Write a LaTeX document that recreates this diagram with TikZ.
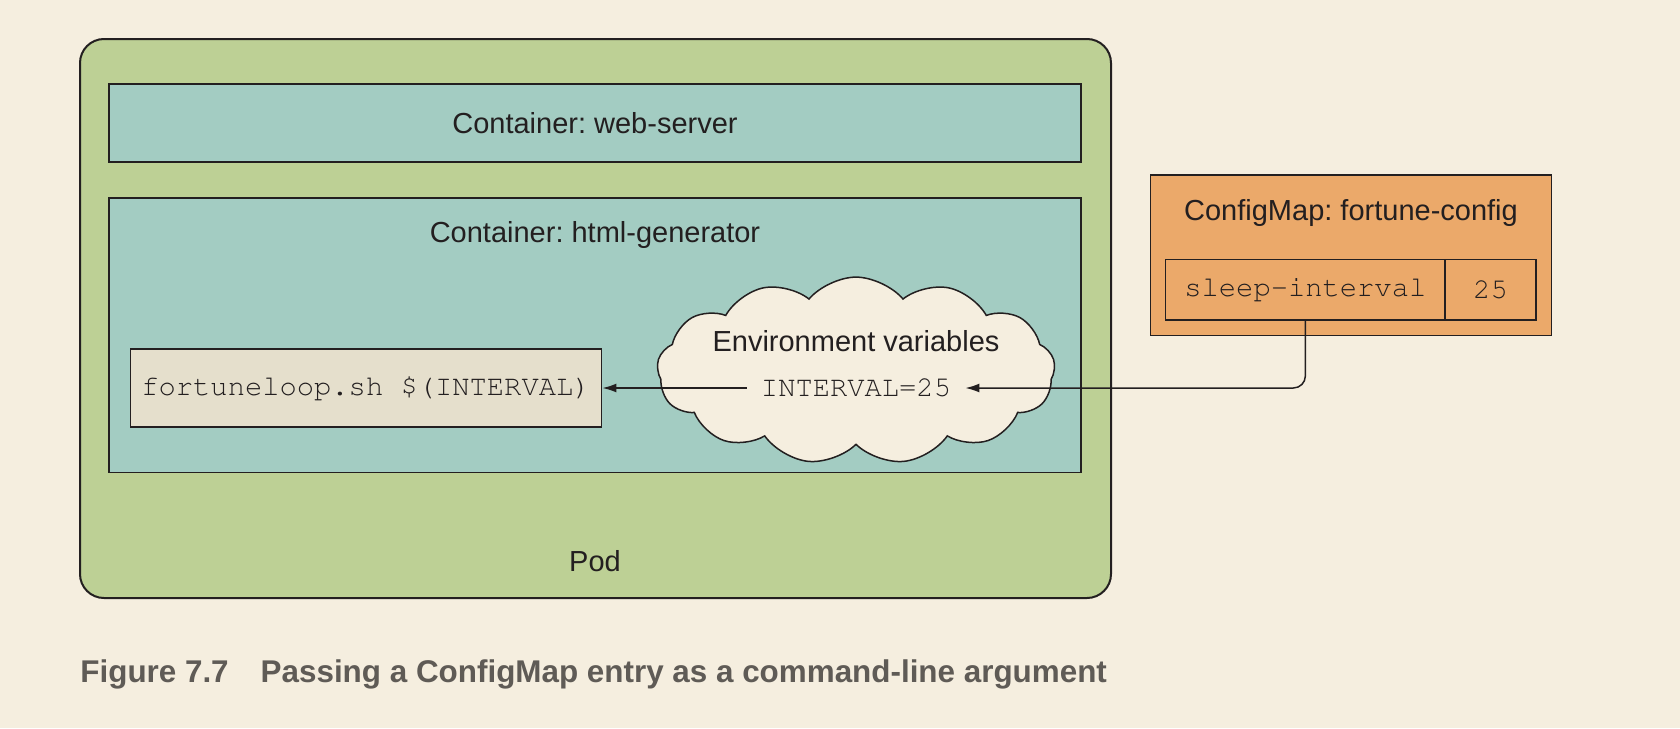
\documentclass[tikz,border=0pt]{standalone}
\usepackage{fontspec}
\setmainfont{Liberation Sans}
\newcommand\couriercode{\fontencoding{T1}\fontfamily{pcr}\fontseries{m}\fontshape{n}\selectfont}
\usetikzlibrary{shapes.symbols,arrows.meta}
\definecolor{paper}{HTML}{F5EEDF}
\definecolor{podgreen}{HTML}{BDD095}
\definecolor{boxteal}{HTML}{A3CCC2}
\definecolor{scriptbox}{HTML}{E5DFCC}
\definecolor{cmorange}{HTML}{EBA96A}
\definecolor{ink}{HTML}{231F20}
\definecolor{capgray}{HTML}{5F5B56}
\frenchspacing
\tikzset{
    box/.style={draw=ink, line width=0.75pt, inner sep=0pt},
    txt/.style={text=ink, inner sep=0pt, font=\fontsize{14.5}{17}\selectfont},
    code/.style={text=ink, inner sep=0pt, font=\couriercode\fontsize{14.4}{17}\selectfont},
    flow/.style={draw=ink, line width=0.75pt, -{Latex[length=7pt,width=4.5pt]}}
}
\begin{document}
\begin{tikzpicture}[x=0.5pt, y=-0.5pt]
                \fill[paper] (0, 0) rectangle (1680, 728);
                \useasboundingbox (0, 0) rectangle (1680, 728);
                \node (pod) at (595.5, 318.5) [box, fill=podgreen, line width=1pt, rounded corners=12pt, minimum width=515.5pt, minimum height=279.5pt] {};
                \node (podlabel) at (595, 561) [txt] {Pod};
                \node (web) at (595, 123) [box, fill=boxteal, minimum width=486pt, minimum height=39pt] {};
                \node (weblabel) at (595, 123) [txt] {Container: web-server};
                \node (html) at (595, 335.25) [box, fill=boxteal, minimum width=486pt, minimum height=137.25pt] {};
                \node (htmllabel) at (595, 235) [txt] {Container: html-generator};
                \node (loop) at (366, 388) [box, fill=scriptbox, minimum width=235.7pt, minimum height=38.9pt] {};
                \node (looptext) at (366, 388) [code] {fortuneloop.sh \$(INTERVAL)};
                \node (env) at (856, 370.6) [box, cloud, cloud puffs=13, cloud puff arc=100, aspect=2.1, fill=paper, minimum width=199pt, minimum height=93.5pt] {};
                \node (envlabel) at (856, 341) [txt] {Environment variables};
                \node (interval) at (856, 388) [code, inner xsep=7pt] {INTERVAL=25};
                \node (cm) at (1351, 255.25) [box, fill=cmorange, minimum width=200.5pt, minimum height=80.25pt] {};
                \node (cmlabel) at (1351, 213) [txt] {ConfigMap: fortune-config};
                \node (cmkey) at (1305.35, 289.85) [box, minimum width=139.65pt, minimum height=30.15pt] {};
                \node (cmval) at (1490.5, 289.85) [box, minimum width=45.5pt, minimum height=30.15pt] {};
                \node at (cmkey) [code] {sleep-interval};
                \node at (cmval) [code] {25};
                \draw [rounded corners=6pt] (cmkey.south) |- (interval.east) [flow];
                \draw (interval.west) -- (loop.east) [flow];
                \node (caption) at (80, 682) [anchor=base west, inner sep=0pt, text=capgray, font=\bfseries\fontsize{15.7}{18}\selectfont] {Figure 7.7\hspace{16pt}Passing a ConfigMap entry as a command-line argument};
            \end{tikzpicture}
\end{document}
